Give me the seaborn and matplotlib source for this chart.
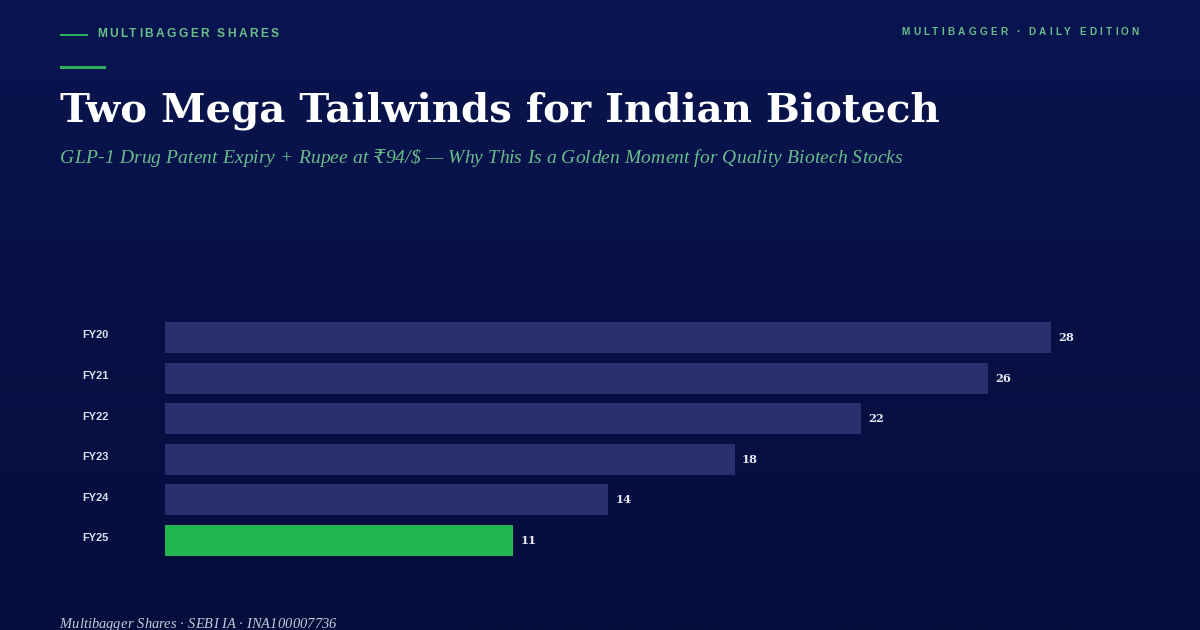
import numpy as np
import pandas as pd
import matplotlib
matplotlib.use('Agg')
import matplotlib.pyplot as plt
import matplotlib.transforms as mtrans
from matplotlib.patches import Rectangle
import seaborn as sns

years = ['FY20', 'FY21', 'FY22', 'FY23', 'FY24', 'FY25']
values = [28, 26, 22, 18, 14, 11]
bar_colors = ['#28316d', '#28316d', '#28316d', '#28316d', '#28316d', '#22b551']

kicker = 'MULTIBAGGER SHARES'
edition = 'MULTIBAGGER · DAILY EDITION'
title = 'Two Mega Tailwinds for Indian Biotech'
subtitle = 'GLP-1 Drug Patent Expiry + Rupee at ₹94/$ — Why This Is a Golden Moment for Quality Biotech Stocks'
footer = 'Multibagger Shares · SEBI IA · INA100007736'

W, H = 1200, 630
GREEN_TEXT = '#69bd8b'
SERIF = ['Liberation Serif', 'DejaVu Serif', 'DejaVu Sans']
SANS = ['Liberation Sans', 'DejaVu Sans']

sns.set_theme(style='white')
fig = plt.figure(figsize=(W / 100, H / 100), dpi=100)

# background gradient
bg = fig.add_axes([0, 0, 1, 1], zorder=0)
top = np.array([9, 21, 80]) / 255
bottom = np.array([5, 13, 60]) / 255
t = np.linspace(0, 1, 256)[:, None, None]
bg.imshow(top + (bottom - top) * t, aspect='auto', extent=[0, 1, 0, 1])
bg.axis('off')

renderer = fig.canvas.get_renderer()


def advance(s, **kw):
    # width of a string including trailing spaces
    m = fig.text(0, 0, s + '|', **kw)
    b = fig.text(0, 0, '|', **kw)
    w = m.get_window_extent(renderer).width - b.get_window_extent(renderer).width
    m.remove()
    b.remove()
    return w


def spaced(x, y, s, spacing=0, right=None, **kw):
    # no letter-spacing in matplotlib, so place the letters one by one
    if spacing == 0:
        fig.text(x / W, 1 - y / H, s, va='baseline', ha='left', **kw)
        return
    if right is not None:
        x = right - advance(s, **kw) - spacing * (len(s) - 1)
    for i, ch in enumerate(s):
        if ch != ' ':
            px = x + advance(s[:i + 1], **kw) - advance(ch, **kw) + spacing * i
            fig.text(px / W, 1 - y / H, ch, va='baseline', ha='left', **kw)


def rule(x0, x1, y0, y1, color):
    fig.add_artist(Rectangle((x0 / W, 1 - y1 / H), (x1 - x0) / W, (y1 - y0) / H,
                             transform=fig.transFigure, color=color, lw=0))


# header
rule(60, 88, 33.5, 35.5, '#2bb05c')
spaced(97.3, 37, kicker, 2.35, family=SANS, size=12 * 0.72, weight='bold', color=GREEN_TEXT)
spaced(0, 35, edition, 3.2, right=1139, family=SANS, size=10 * 0.72, weight='bold', color=GREEN_TEXT)
rule(60, 106, 66, 69, '#2bb05c')
spaced(60, 122, title, 0, family=['DejaVu Serif'], size=40.3 * 0.72, weight='bold', color='white')
spaced(60, 163, subtitle, 0.13, family=SERIF, size=19.5 * 0.72, style='italic', color=GREEN_TEXT)
spaced(59.5, 628, footer, 0.1, family=SERIF, size=14.5 * 0.72, style='italic', color='#c4cbdc')

# bars
df = pd.DataFrame({'year': years, 'value': values})
ax = fig.add_axes([165 / W, 1 - 560.8 / H, 886 / W, 243.6 / H], zorder=1)
ax.patch.set_alpha(0)
sns.barplot(data=df, x='value', y='year', hue='year', palette=bar_colors,
            legend=False, width=0.763, saturation=1, linewidth=0, edgecolor='none', ax=ax)
ax.set_xlim(0, 28)
ax.set_xlabel('')
ax.set_ylabel('')
ax.set_xticks([])
sns.despine(ax=ax, left=True, bottom=True)

for c in ax.containers:
    ax.bar_label(c, padding=5.3, family=['DejaVu Serif'], size=11.5 * 0.72, weight='bold', color='#e6e9f2')

ax.tick_params(axis='y', length=0, pad=82 * 0.72)
shift = mtrans.ScaledTranslation(-1 / 100, 3 / 100, fig.dpi_scale_trans)
for lab in ax.get_yticklabels():
    lab.set_ha('left')
    lab.set_family(SANS)
    lab.set_size(11 * 0.72)
    lab.set_weight('bold')
    lab.set_color('#dde1ec')
    lab.set_transform(lab.get_transform() + shift)

fig.savefig('out.png', dpi=100)
